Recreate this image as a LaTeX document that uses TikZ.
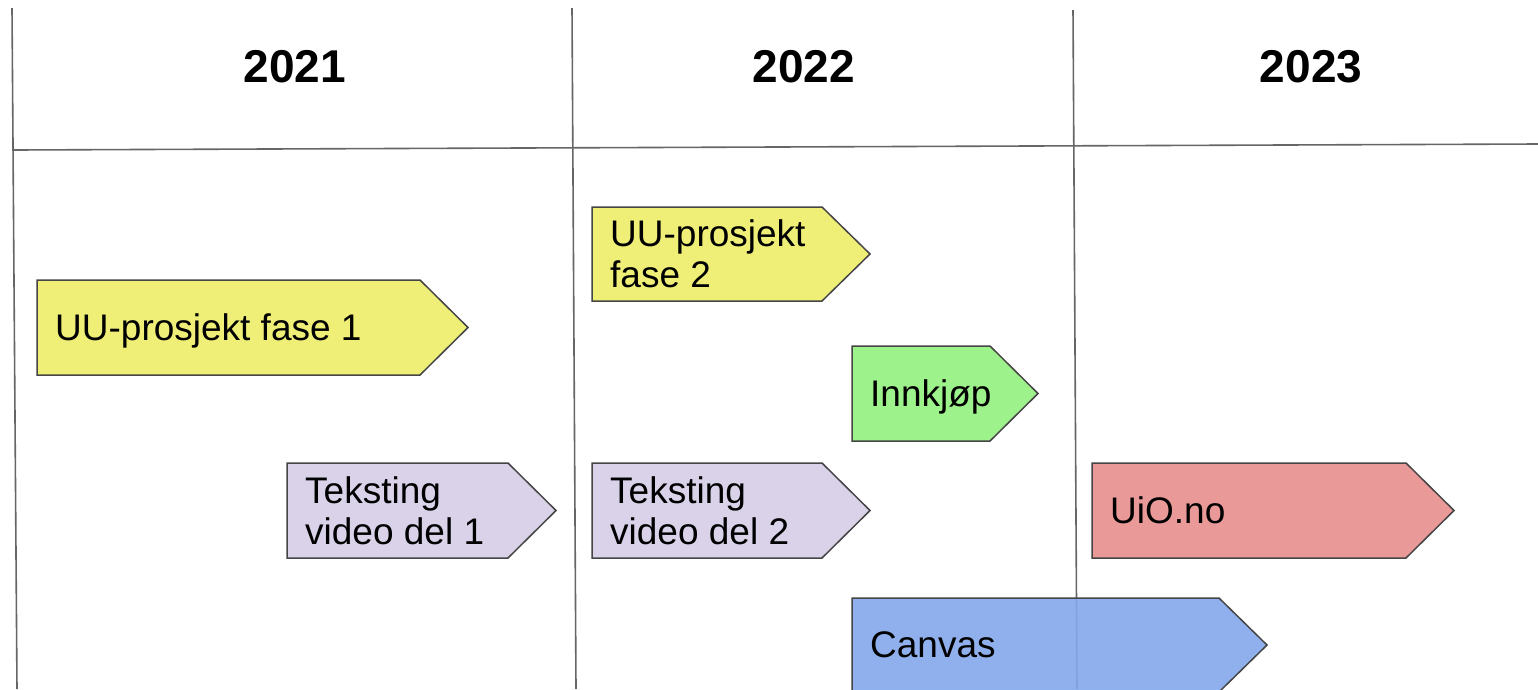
\documentclass[tikz,border=0pt]{standalone}
\usepackage{fontspec}
\setmainfont{Liberation Sans}
\definecolor{gridgray}{HTML}{666666}
\definecolor{edgegray}{HTML}{454545}
\definecolor{uuyellow}{HTML}{EFEF78}
\definecolor{buygreen}{HTML}{9EF28B}
\definecolor{textlav}{HTML}{D9D2E9}
\definecolor{uiored}{HTML}{EA9999}
\definecolor{canvasblue}{HTML}{83A8EC}
\newcommand\mytask[8]{%
  \path[taskshape,fill=#6] (#2,#3) -- (#4-48,#3) -- (#4,{(#3+#5)/2}) -- (#4-48,#5) -- (#2,#5) -- cycle;
  \node[tasklabel,#7] (#1) at (#2+18,{(#3+#5)/2}) {#8};
}
\begin{document}
\begin{tikzpicture}[x=1pt,y=-1pt,
  gridline/.style={draw=gridgray,line width=1.6pt},
  taskshape/.style={draw=edgegray,line width=1.5pt,line join=miter},
  tasklabel/.style={anchor=west,align=left,font=\fontsize{37}{41}\selectfont,inner sep=0pt},
  yearlabel/.style={font=\fontsize{46}{50}\selectfont\bfseries,inner sep=0pt,text depth=0pt}]
\clip (0,0) rectangle (1538,689);
\fill[white] (0,0) rectangle (1538,689);
% grid
\coordinate (v1t) at (12,8);   \coordinate (v1b) at (17,689);
\coordinate (v2t) at (572,8);  \coordinate (v2b) at (576,689);
\coordinate (v3t) at (1073,10); \coordinate (v3b) at (1077,689);
\coordinate (hl) at (14,150);  \coordinate (hr) at (1538,144);
\draw[gridline] (v1t) -- (v1b);
\draw[gridline] (v2t) -- (v2b);
\draw[gridline] (v3t) -- (v3b);
\draw[gridline] (hl) -- (hr);
% years
\node[yearlabel] (y2021) at (295,66) {2021};
\node[yearlabel] (y2022) at (804,66) {2022};
\node[yearlabel] (y2023) at (1311,66) {2023};
% tasks
\mytask{uu1}{37}{280}{468}{375}{uuyellow}{text depth=0pt}{UU-prosjekt fase 1}
\mytask{uu2}{592}{207}{870}{301}{uuyellow}{}{UU-prosjekt\\fase 2}
\mytask{buy}{852}{346}{1038}{441}{buygreen}{text depth=0pt}{Innkjøp}
\mytask{tv1}{287}{463}{556}{558}{textlav}{}{Teksting\\video del 1}
\mytask{tv2}{592}{463}{870}{558}{textlav}{}{Teksting\\video del 2}
\mytask{uio}{1092}{463}{1454}{558}{uiored}{text depth=0pt}{UiO.no}
\mytask{canvas}{852}{598}{1267}{692}{canvasblue,fill opacity=0.9}{text depth=0pt}{Canvas}
\end{tikzpicture}
\end{document}
